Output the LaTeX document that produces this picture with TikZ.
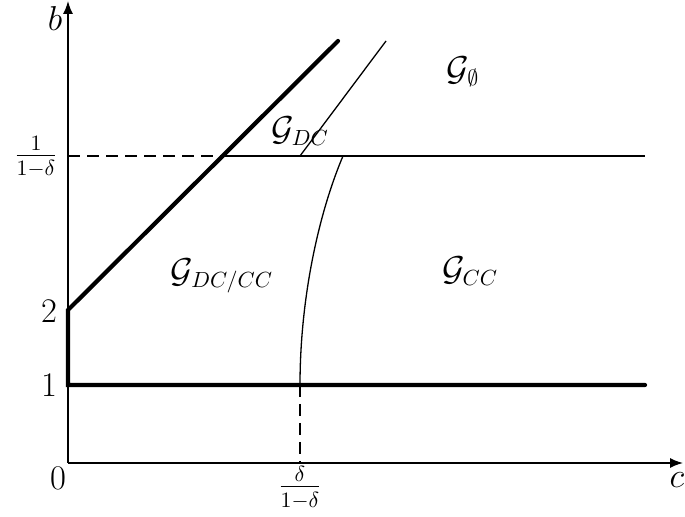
\documentclass[tikz,border=0pt]{standalone}
\usetikzlibrary{arrows.meta}
\begin{document}
\begin{tikzpicture}[x=0.5pt,y=-0.5pt,
  every node/.style={font=\fontsize{16}{19}\selectfont, inner sep=0pt},
  axis/.style={line width=0.75pt,-{Latex[length=6.5pt,width=5pt]}},
  thickline/.style={line width=2.1pt,line cap=round},
  thinline/.style={line width=0.65pt},
  dashline/.style={line width=0.65pt,dash pattern=on 6pt off 3.5pt}]
\useasboundingbox (0,0) rectangle (685,517);
% coordinates
\coordinate (O) at (68,463);
\coordinate (xend) at (683,463);
\coordinate (yend) at (68,1);
\coordinate (B1) at (68,385);
\coordinate (B2) at (68,310);
\coordinate (Bd) at (68,156);
\coordinate (T1) at (338,41);
\coordinate (X) at (222,156);
\coordinate (R) at (645,156);
\coordinate (R1) at (645,385);
\coordinate (C1) at (300,385);
\coordinate (Cd) at (300,463);
\coordinate (P) at (300,156);
\coordinate (T2) at (386,41);
\coordinate (K) at (343,156);
% axes
\draw[axis] (O) -- (xend);
\draw[axis] (O) -- (yend);
% thick boundary
\draw[thickline] (R1) -- (B1) -- (B2) -- (T1);
% thin lines
\draw[thinline] (X) -- (R);
\draw[dashline] (Bd) -- (X);
\draw[dashline] (C1) -- (Cd);
\draw[thinline] (P) -- (T2);
\draw[thinline] (C1) .. controls (300,300) and (318,215) .. (K);
% labels
\node (lb) at (55,19) {$b$};
\node (lc) at (677,480) {$c$};
\node (l0) at (58,478) {$0$};
\node (l1) at (49,385) {$1$};
\node (l2) at (49,311) {$2$};
\node (ld) at (36,157) {$\frac{1}{1-\delta}$};
\node (lx) at (300,488) {$\frac{\delta}{1-\delta}$};
\node (gE) at (463,72) {$\mathcal{G}_{\emptyset}$};
\node (gDC) at (300,131) {$\mathcal{G}_{DC}$};
\node (gDCCC) at (222,276) {$\mathcal{G}_{DC/CC}$};
\node (gCC) at (470,271) {$\mathcal{G}_{CC}$};
\end{tikzpicture}
\end{document}
